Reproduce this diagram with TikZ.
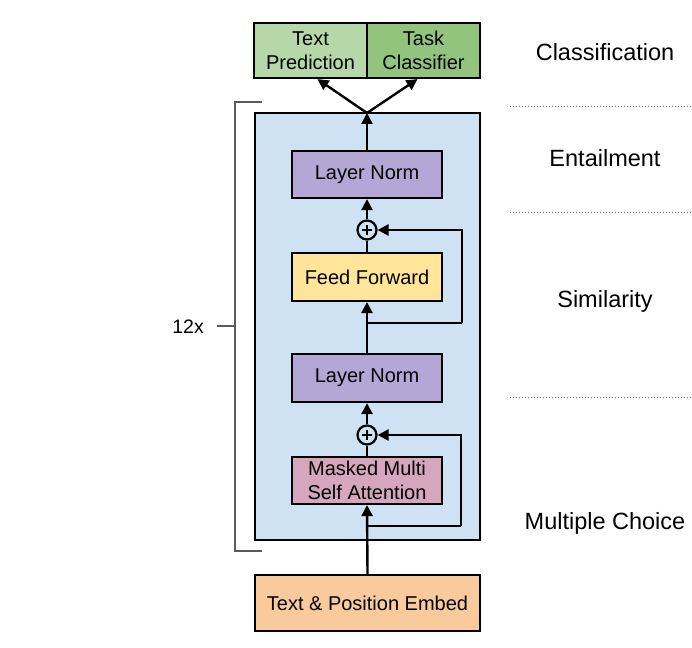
\documentclass[tikz,border=0pt]{standalone}
\usepackage{fontspec}
\setmainfont{Liberation Sans}
\usetikzlibrary{arrows.meta,calc}
\definecolor{blueback}{HTML}{CFE2F3}
\definecolor{tpgreen}{HTML}{B6D7A8}
\definecolor{tcgreen}{HTML}{93C47D}
\definecolor{lnpurple}{HTML}{B4A7D6}
\definecolor{ffyellow}{HTML}{FFE599}
\definecolor{msapink}{HTML}{D5A6BD}
\definecolor{emborange}{HTML}{F9CB9C}
\definecolor{brackgray}{HTML}{5A5A5A}
\definecolor{dotgray}{HTML}{707070}
\tikzset{
  boxstyle/.style={draw=black, line width=2.2pt, inner sep=0pt, align=center,
    font=\fontsize{20}{23.5}\selectfont},
  plusnode/.style={draw=black, line width=2.2pt, circle, minimum size=19pt, inner sep=0pt},
  conn/.style={line width=2.4pt, draw=black},
  arr/.style={conn, -{Triangle[width=11pt,length=11pt]}},
  tasklabel/.style={font=\fontsize{23.5}{26}\selectfont, inner sep=0pt},
  sepline/.style={draw=dotgray, line width=1pt, dash pattern=on 1pt off 2pt},
  brack/.style={draw=brackgray, line width=1.4pt},
}
\begin{document}
\begin{tikzpicture}[x=1pt,y=-1pt]
\useasboundingbox (0,0) rectangle (692,647);
% background transformer block
\node[boxstyle, fill=blueback, minimum width=225pt, minimum height=427pt] (blk) at (367.5,326.5) {};
% top heads
\node[boxstyle, fill=tpgreen, minimum width=113pt, minimum height=55pt] (tp) at (310.5,50.5) {Text\\Prediction};
\node[boxstyle, fill=tcgreen, minimum width=113pt, minimum height=55pt] (tc) at (423.5,50.5) {Task\\Classifier};
% inner blocks
\node[boxstyle, fill=lnpurple, minimum width=150pt, minimum height=47pt] (ln1) at (367,174.5) {Layer Norm};
\node[plusnode] (p1) at (367,230) {};
\node[boxstyle, fill=ffyellow, minimum width=150pt, minimum height=48pt] (ff) at (367,277) {Feed Forward};
\node[boxstyle, fill=lnpurple, minimum width=150pt, minimum height=48pt] (ln2) at (367,378) {Layer Norm};
\node[plusnode] (p2) at (367,435) {};
\node[boxstyle, fill=msapink, minimum width=150pt, minimum height=47pt] (msa) at (367,480.5) {Masked Multi\\Self Attention};
\node[boxstyle, fill=emborange, minimum width=225pt, minimum height=56pt] (emb) at (367.5,603) {Text \& Position Embed};
% plus signs
\foreach \p in {p1,p2}{
  \draw[line width=2pt] ([xshift=-5pt]\p.center) -- ([xshift=5pt]\p.center);
  \draw[line width=2pt] ([yshift=-5pt]\p.center) -- ([yshift=5pt]\p.center);
}
% coordinates
\coordinate (r2) at (367,526);
\coordinate (r2c) at (461,526);
\coordinate (r1) at (367,323);
\coordinate (r1c) at (462,323);
\coordinate (j) at (367,113);
% connectors
\draw[arr] (emb.north) -- (msa.south);
\draw[conn] (r2) -- (r2c);
\draw[arr] (r2c) |- (p2.east);
\draw[conn] (msa.north) -- (p2.south);
\draw[arr] (p2.north) -- (ln2.south);
\draw[arr] (ln2.north) -- (ff.south);
\draw[conn] (r1) -- (r1c);
\draw[arr] (r1c) |- (p1.east);
\draw[conn] (ff.north) -- (p1.south);
\draw[arr] (p1.north) -- (ln1.south);
\draw[arr] (ln1.north) -- (j);
\draw[arr] (j) -- ([xshift=7pt]tp.south);
\draw[arr] (j) -- ([xshift=-6pt]tc.south);
% bracket
\coordinate (bt) at (262,102);
\coordinate (bb) at (262,551);
\draw[brack] (bt) -- (235,102) -- (235,551) -- (bb);
\coordinate (bm) at (235,326);
\coordinate (tk) at (217,326);
\draw[brack] (bm) -- (tk);
\node[font=\fontsize{19.5}{22}\selectfont, inner sep=0pt, anchor=east] (rep) at (204,327) {12x};
% task labels
\node[tasklabel] (cls) at (605,52) {Classification};
\node[tasklabel] (ent) at (605,158) {Entailment};
\node[tasklabel] (sim) at (605,301) {Similarity};
\node[tasklabel] (mc) at (605,523) {Multiple Choice};
% separators
\draw[sepline] (510,107) -- (692,107);
\draw[sepline] (510,212) -- (692,212);
\draw[sepline] (510,397) -- (692,397);
\end{tikzpicture}
\end{document}
